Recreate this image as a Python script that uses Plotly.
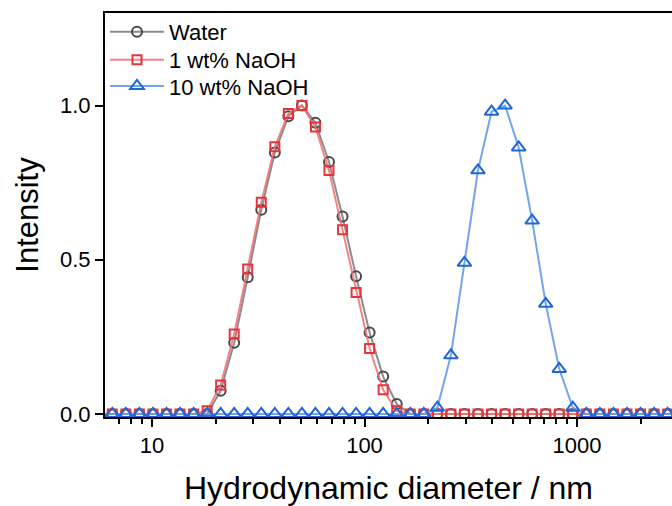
import plotly.graph_objects as go

# Hydrodynamic diameter bins (nm)
diameter = [5.615, 6.503, 7.531, 8.721, 10.10, 11.70, 13.54, 15.69, 18.17, 21.04,
            24.36, 28.21, 32.67, 37.84, 43.82, 50.75, 58.77, 68.06, 78.82, 91.28,
            105.7, 122.4, 141.8, 164.2, 190.1, 220.2, 255.0, 295.3, 342.0, 396.1,
            458.7, 531.2, 615.1, 712.4, 825.0, 955.4, 1106, 1281, 1484, 1718,
            1990, 2305, 2669, 3091]

water = [0, 0, 0, 0, 0, 0, 0, 0, 0, 0.075,
         0.231, 0.443, 0.662, 0.848, 0.965, 1.0, 0.944, 0.817, 0.640, 0.446,
         0.264, 0.121, 0.032, 0, 0, 0, 0, 0, 0, 0,
         0, 0, 0, 0, 0, 0, 0, 0, 0, 0,
         0, 0, 0, 0]

naoh_1 = [0, 0, 0, 0, 0, 0, 0, 0, 0.01, 0.094,
          0.259, 0.470, 0.686, 0.866, 0.974, 1.0, 0.930, 0.789, 0.597, 0.394,
          0.212, 0.078, 0.01, 0, 0, 0, 0, 0, 0, 0,
          0, 0, 0, 0, 0, 0, 0, 0, 0, 0,
          0, 0, 0, 0]

naoh_10 = [0, 0, 0, 0, 0, 0, 0, 0, 0, 0,
           0, 0, 0, 0, 0, 0, 0, 0, 0, 0,
           0, 0, 0, 0, 0, 0.02, 0.19, 0.49, 0.79, 0.98,
           1.0, 0.864, 0.627, 0.357, 0.146, 0.02, 0, 0, 0, 0,
           0, 0, 0, 0]

x_tickvals = [10, 100, 1000]
x_ticktext = ["10", "100", "1000"]
y_tickvals = [0.0, 0.5, 1.0]
y_ticktext = ["0.0", "0.5", "1.0"]

FONT = "Arial, Liberation Sans, sans-serif"

fig = go.Figure()
series = [
    ("Water", water, "rgba(120,120,120,0.85)", "#4a4a4a", "circle-open", 10, "legend"),
    ("1 wt% NaOH", naoh_1, "rgba(240,110,110,0.85)", "#e8333a", "square-open", 9, "legend2"),
    ("10 wt% NaOH", naoh_10, "rgba(100,155,235,0.9)", "#1f66d6", "triangle-up-open", 12, "legend3"),
]
for name, ys, lc, mc, sym, ms, lg in series:
    fig.add_trace(go.Scatter(
        x=diameter, y=ys, name=name, mode="lines+markers",
        line=dict(color=lc, width=2),
        marker=dict(symbol=sym, size=ms, color=mc, line=dict(width=2, color=mc)),
        legend=lg,
    ))

legend_common = dict(x=0.0, xanchor="left", yanchor="middle",
                     bgcolor="rgba(0,0,0,0)", font=dict(size=22, family=FONT),
                     itemwidth=54)

fig.update_layout(
    width=672, height=506,
    margin=dict(l=105, r=0, t=13, b=89),
    paper_bgcolor="white", plot_bgcolor="white",
    font=dict(family=FONT, color="black", size=22),
    showlegend=True,
    legend=dict(y=0.953, **legend_common),
    legend2=dict(y=0.884, **legend_common),
    legend3=dict(y=0.819, **legend_common),
    xaxis=dict(
        type="log", range=[0.7788, 3.447],
        tickvals=x_tickvals, ticktext=x_ticktext,
        ticks="outside", ticklen=8, tickwidth=2, tickcolor="black",
        minor=dict(ticks="outside", ticklen=5, tickwidth=1.5, tickcolor="black", dtick="D1"),
        showline=True, linewidth=2, linecolor="black", mirror=True,
        showgrid=False, zeroline=False,
        tickfont=dict(size=22, family=FONT),
        title=dict(text="Hydrodynamic diameter / nm", font=dict(size=32, family=FONT), standoff=20),
    ),
    yaxis=dict(
        range=[-0.01, 1.3],
        tickvals=y_tickvals, ticktext=y_ticktext,
        ticks="outside", ticklen=8, tickwidth=2, tickcolor="black",
        showline=True, linewidth=2, linecolor="black",
        showgrid=False, zeroline=False,
        tickfont=dict(size=22, family=FONT),
        title=dict(text="Intensity", font=dict(size=31, family=FONT), standoff=12),
    ),
)

fig.write_html("out.html", config={"displayModeBar": False},
               post_script="document.body.style.margin='0';")
